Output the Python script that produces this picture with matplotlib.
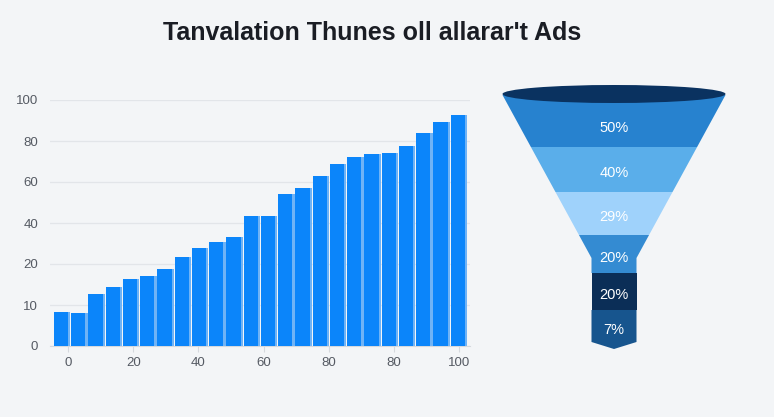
import matplotlib.pyplot as plt
import numpy as np
from matplotlib.patches import Polygon, Ellipse

# bar chart data (heights on the displayed 0-100 axis)
bar_values = [13.7, 13.3, 21.0, 24.1, 27.4, 28.6, 31.2, 36.1, 39.7, 42.2, 44.3, 53.0,
              53.0, 61.9, 64.2, 69.1, 74.0, 76.7, 78.2, 78.5, 81.3, 86.5, 90.9, 93.8]
y_tick_labels = ["0", "10", "20", "40", "60", "80", "100"]
x_tick_labels = ["0", "20", "40", "60", "80", "80", "100"]

# funnel data
funnel_labels = ["50%", "40%", "29%", "20%", "20%", "7%"]
funnel_colors = ["#2782cf", "#5aaeea", "#9fd2fb", "#348bd2", "#0b2e57", "#17558e"]

title = "Tanvalation Thunes oll allarar't Ads"

bg = "#f3f5f7"
W, H = 774, 417
fig = plt.figure(figsize=(W / 100, H / 100), dpi=100)
fig.patch.set_facecolor(bg)
plt.rcParams['font.family'] = ['Liberation Sans', 'DejaVu Sans']

fig.text(372 / W, 1 - 33 / H, title, ha="center", va="center",
         fontsize=18, fontweight="bold", color="#1a1d24")

# ---- bar chart ----
ax = fig.add_axes([50 / W, (H - 346) / H, 420 / W, 246 / H])
ax.set_facecolor(bg)
x = np.arange(len(bar_values))
ax.bar(x + 0.06, bar_values, width=0.96, color="#6fb3f6", zorder=2)
ax.bar(x, bar_values, width=0.82, color="#0b85fa", zorder=3)
ax.set_xlim(-0.64, 23.71)
ax.set_ylim(0, 100)
ax.set_yticks(np.linspace(0, 100, 7))
ax.set_yticklabels(y_tick_labels)
ax.set_xticks(np.linspace(0.4, 23.1, 7))
ax.set_xticklabels(x_tick_labels)
ax.grid(axis="y", color="#e2e5e9", linewidth=0.9, zorder=0)
for s in ["top", "right", "left"]:
    ax.spines[s].set_visible(False)
ax.spines["bottom"].set_color("#d5d9de")
ax.tick_params(axis="y", length=0, pad=8.5, labelsize=9.5, labelcolor="#555a63")
ax.tick_params(axis="x", length=4, color="#d5d9de", pad=4, labelsize=9.5, labelcolor="#555a63")

# ---- funnel ----
fx = fig.add_axes([0, 0, 1, 1])
fx.set_xlim(0, W)
fx.set_ylim(H, 0)
fx.axis("off")
fx.patch.set_alpha(0)

cx = 614
top_y, top_hw, slope = 95, 111.5, 0.546
neck_hw = 22.5
bounds = [95, 147, 192, 235, 273, 310, 342]
tip = 7


def half_width(y):
    return max(top_hw - slope * (y - top_y), neck_hw)


for i, (lab, col) in enumerate(zip(funnel_labels, funnel_colors)):
    y0, y1 = bounds[i], bounds[i + 1]
    ys = [y0, y1]
    knee = top_y + (top_hw - neck_hw) / slope
    if y0 < knee < y1:
        ys = [y0, knee, y1]
    left = [(cx - half_width(y), y) for y in ys]
    right = [(cx + half_width(y), y) for y in ys[::-1]]
    pts = left + right
    if i == len(funnel_labels) - 1:
        pts = left + [(cx, y1 + tip)] + right
    fx.add_patch(Polygon(pts, closed=True, facecolor=col, edgecolor="none"))
    fx.text(cx, (y0 + y1) / 2 + (3.5 if i else 7), lab, ha="center", va="center",
            color="white", fontsize=10.5)

fx.add_patch(Ellipse((cx, top_y - 1), 2 * top_hw, 18, facecolor="#0a3260", edgecolor="none"))

fig.savefig("out.png", dpi=100, facecolor=bg)
